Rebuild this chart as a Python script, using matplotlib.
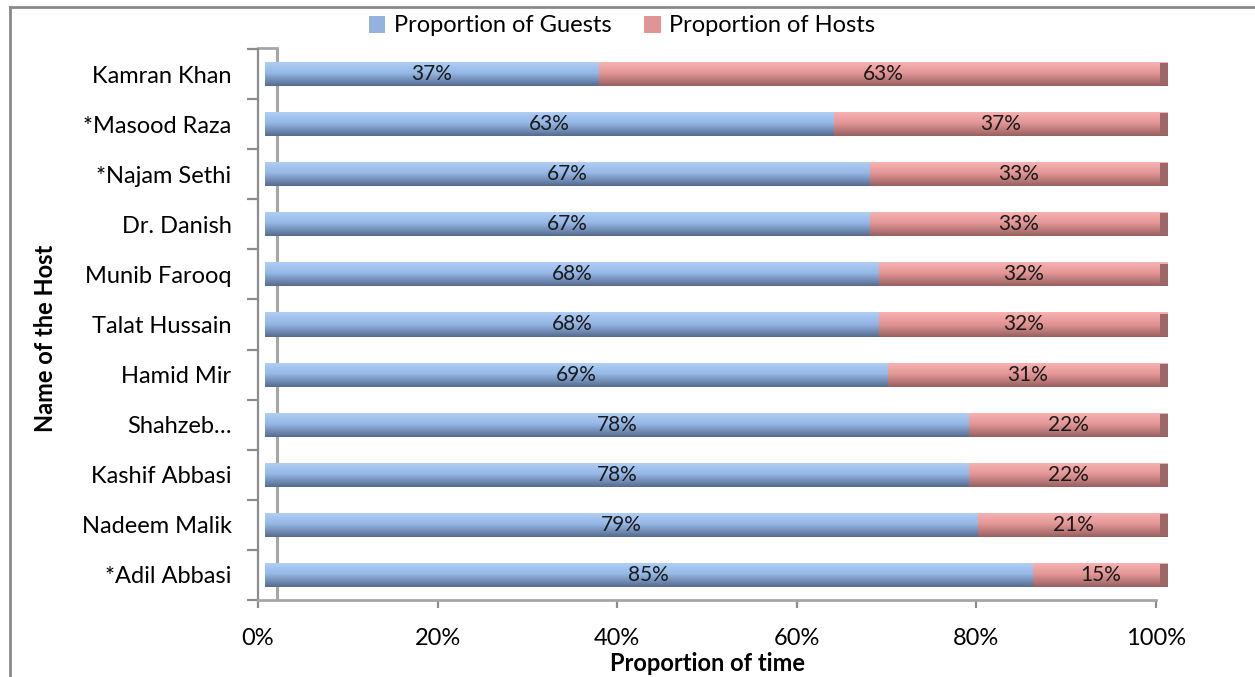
import matplotlib
matplotlib.use("Agg")
import matplotlib.pyplot as plt
import matplotlib.transforms as mtransforms
from matplotlib.lines import Line2D
from matplotlib.patches import Patch
import numpy as np

hosts = ["*Adil Abbasi", "Nadeem Malik", "Kashif Abbasi", "Shahzeb…", "Hamid Mir",
         "Talat Hussain", "Munib Farooq", "Dr. Danish", "*Najam Sethi",
         "*Masood Raza", "Kamran Khan"]
guests_pct = [85, 79, 78, 78, 69, 68, 68, 67, 67, 63, 37]
hosts_pct = [15, 21, 22, 22, 31, 32, 32, 33, 33, 37, 63]
xticks = [0, 20, 40, 60, 80, 100]
xtick_labels = ["0%", "20%", "40%", "60%", "80%", "100%"]

plt.rcParams['font.family'] = ['Lato', 'DejaVu Sans']

W, H = 1255, 677
fig = plt.figure(figsize=(W / 100, H / 100), dpi=100)
ax = fig.add_axes([258 / W, 1 - 600 / H, (1156 - 258) / W, (600 - 49) / H])

# figure border (top & left)
fig.add_artist(Line2D([10 / W, 10 / W], [0, 1 - 7 / H], transform=fig.transFigure,
                      color="#8a8a8a", lw=2))
fig.add_artist(Line2D([10 / W, 1], [1 - 7 / H, 1 - 7 / H], transform=fig.transFigure,
                      color="#8a8a8a", lw=2))

n = len(hosts)
ypos = np.arange(n)
ax.set_xlim(0, 100)
ax.set_ylim(-0.5, n - 0.5)

# 3D-like bar transform: shifted right and slightly stretched
x0 = ax.transAxes.transform((0, 0))[0]
off = ax.transData + mtransforms.Affine2D().translate(-x0, 0).scale(903 / 898, 1).translate(x0 + 7, 0)

# wall line (3D back wall)
ax.plot([0, 0], [-0.5, n - 0.5], color="#a6a6a6", lw=2.2,
        transform=mtransforms.offset_copy(ax.transData, fig=fig, x=19, y=0, units='dots'),
        zorder=1)

blue_top = np.array([176, 206, 244]) / 255
blue_mid = np.array([148, 183, 230]) / 255
blue_bot = np.array([85, 105, 140]) / 255
pink_top = np.array([246, 178, 178]) / 255
pink_mid = np.array([228, 150, 150]) / 255
pink_bot = np.array([150, 95, 95]) / 255

def grad_color(top, mid, bot, t):
    if t < 0.45:
        return top + (mid - top) * (t / 0.45)
    return mid + (bot - mid) * ((t - 0.45) / 0.55)

bh = 0.48
nstripes = 24
for i in range(n):
    g = guests_pct[i]
    h = hosts_pct[i]
    total = g + h
    for k in range(nstripes):
        t = (k + 0.5) / nstripes
        y0 = ypos[i] + bh / 2 - (k + 1) * bh / nstripes
        ax.barh(y0, g, height=bh / nstripes, left=0, align='edge',
                color=grad_color(blue_top, blue_mid, blue_bot, t), lw=0,
                transform=off, zorder=3, clip_on=False)
        ax.barh(y0, h, height=bh / nstripes, left=g, align='edge',
                color=grad_color(pink_top, pink_mid, pink_bot, t), lw=0,
                transform=off, zorder=3, clip_on=False)
    # end cap
    ax.barh(ypos[i], 0.9, height=bh * 0.9, left=total - 0.9, color="#9e6767",
            lw=0, transform=off, zorder=4, clip_on=False)
    ax.text(g / 2, ypos[i], f"{g}%", ha='center', va='center', fontsize=15,
            color="#1a1a1a", transform=off, zorder=5)
    ax.text(g + h / 2, ypos[i], f"{h}%", ha='center', va='center', fontsize=15,
            color="#1a1a1a", transform=off, zorder=5)

# wall top cap
ax.plot([0, 2.1], [n - 0.5 + 0.02, n - 0.5 + 0.02], color="#a6a6a6", lw=2, zorder=1,
        clip_on=False)

for s in ['top', 'right']:
    ax.spines[s].set_visible(False)
ax.spines['left'].set_color("#8c8c8c")
ax.spines['left'].set_linewidth(1.6)
ax.spines['bottom'].set_color("#a6a6a6")
ax.spines['bottom'].set_linewidth(2)

ax.set_xticks(xticks)
ax.set_xticklabels(xtick_labels, fontsize=17)
ax.set_yticks(ypos)
ax.set_yticklabels(hosts, fontsize=17)
ax.set_yticks(np.arange(-0.5, n, 1), minor=True)
ax.tick_params(axis='y', which='major', length=0, pad=19)
ax.tick_params(axis='y', which='minor', length=8, color="#8c8c8c", width=1.6)
ax.tick_params(axis='x', which='major', length=6, color="#8c8c8c", width=1.6, pad=14)

ax.set_xlabel("Proportion of time", fontsize=17, fontweight='bold', labelpad=2)
ax.set_ylabel("Name of the Host", fontsize=17, fontweight='bold')
ax.yaxis.set_label_coords(57 / W, 0.5, transform=fig.transFigure)

handles = [Patch(facecolor="#93b3dc", label="Proportion of Guests"),
           Patch(facecolor="#de9594", label="Proportion of Hosts")]
fig.legend(handles=handles, loc='center', bbox_to_anchor=(622 / W, 1 - 26 / H), ncol=2,
           frameon=False, fontsize=17, handlelength=0.7, handleheight=0.7,
           handletextpad=0.35, columnspacing=1.4)

fig.savefig("out.png", dpi=100)
